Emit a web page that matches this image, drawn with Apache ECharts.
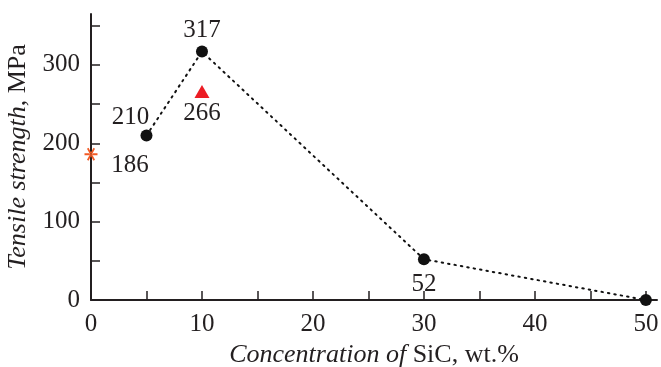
<!DOCTYPE html>
<html lang="en">
<head>
  <meta charset="UTF-8">
  <title>Tensile strength vs SiC</title>
  <style>
    html, body { margin: 0; padding: 0; background: #fff; }
    #main { width: 661px; height: 367px; }
  </style>
</head>
<body>
  <div id="main"></div>
  <script src="https://cdn.jsdelivr.net/npm/echarts@6/dist/echarts.min.js"></script>
  <script>
    // data
    var sicConc = [5, 10, 30, 50];
    var strength = [210, 317, 52, 0];
    var lineLabels = ['210', '317', '52', ''];
    var triangleX = [10];
    var triangleY = [266];
    var starX = [0];
    var starY = [186];
    var xTicks = [0, 5, 10, 15, 20, 25, 30, 35, 40, 45, 50];
    var xTickLabels = [0, 10, 20, 30, 40, 50];
    var yTicks = [0, 50, 100, 150, 200, 250, 300, 350];
    var yTickLabels = [0, 100, 200, 300];

    var ink = '#231f20';
    var font = '"Liberation Serif", "Times New Roman", serif';
    var fs = 25;
    var nameFs = 26;
    // label offsets from each point of the line
    var labelOffset = [[-16, -18], [0, -21], [0, 25], [0, 0]];

    var lineData = sicConc.map(function (x, i) {
      return {
        value: [x, strength[i]],
        label: {
          show: lineLabels[i] !== '',
          formatter: lineLabels[i],
          position: 'inside',
          offset: labelOffset[i]
        }
      };
    });

    var starPath = 'path://M1 8.8H19V11.2H1Z' +
      'M13.46 18.39L15.54 17.19L6.54 1.61L4.46 2.81Z' +
      'M4.46 17.19L6.54 18.39L15.54 2.81L13.46 1.61Z';

    var labelStyle = { fontFamily: font, fontSize: fs, color: ink };
    var nameRich = {
      i: { fontFamily: font, fontSize: nameFs, fontStyle: 'italic', color: ink },
      n: { fontFamily: font, fontSize: nameFs, color: ink }
    };

    var chart = echarts.init(document.getElementById('main'));
    chart.setOption({
      animation: false,
      grid: { left: 91, right: 4, top: 14, bottom: 67, outerBoundsMode: 'none', containLabel: false },
      xAxis: {
        type: 'value',
        min: 0,
        max: 51,
        name: '{i|Concentration of }{n|SiC, wt.%}',
        nameLocation: 'middle',
        nameGap: 36,
        nameTextStyle: { rich: nameRich },
        axisLine: { lineStyle: { color: ink, width: 2 } },
        axisTick: { inside: true, length: 9, customValues: xTicks, lineStyle: { color: ink, width: 1.5 } },
        axisLabel: { customValues: xTickLabels, fontFamily: font, fontSize: fs, color: ink, margin: 12 },
        splitLine: { show: false }
      },
      yAxis: {
        type: 'value',
        min: 0,
        max: 365,
        name: '{i|Tensile strength}{n|, MPa}',
        nameLocation: 'middle',
        nameGap: 50,
        nameRotate: 90,
        nameTextStyle: { rich: nameRich },
        axisLine: { show: true, lineStyle: { color: ink, width: 2 } },
        axisTick: { show: true, inside: true, length: 9, customValues: yTicks, lineStyle: { color: ink, width: 1.5 } },
        axisLabel: { customValues: yTickLabels, fontFamily: font, fontSize: fs, color: ink, margin: 11 },
        splitLine: { show: false }
      },
      series: [{
        type: 'line',
        data: lineData,
        symbol: 'circle',
        symbolSize: 12,
        clip: false,
        itemStyle: { color: '#111', opacity: 1 },
        lineStyle: { color: '#111', width: 2, type: [1.5, 5], cap: 'round' },
        label: labelStyle
      }, {
        type: 'scatter',
        data: triangleX.map(function (x, i) { return [x, triangleY[i]]; }),
        symbol: 'triangle',
        symbolSize: [15, 13],
        itemStyle: { color: '#ec1c24', opacity: 1 },
        label: Object.assign({ show: true, position: 'inside', offset: [0, 22], formatter: function (p) { return p.value[1]; } }, labelStyle)
      }, {
        type: 'scatter',
        data: starX.map(function (x, i) { return [x, starY[i]]; }),
        symbol: starPath,
        symbolSize: 13,
        clip: false,
        itemStyle: { color: '#f15a24', opacity: 1 },
        label: Object.assign({ show: true, position: 'inside', offset: [39, 11], formatter: function (p) { return p.value[1]; } }, labelStyle)
      }]
    });
  </script>
</body>
</html>
